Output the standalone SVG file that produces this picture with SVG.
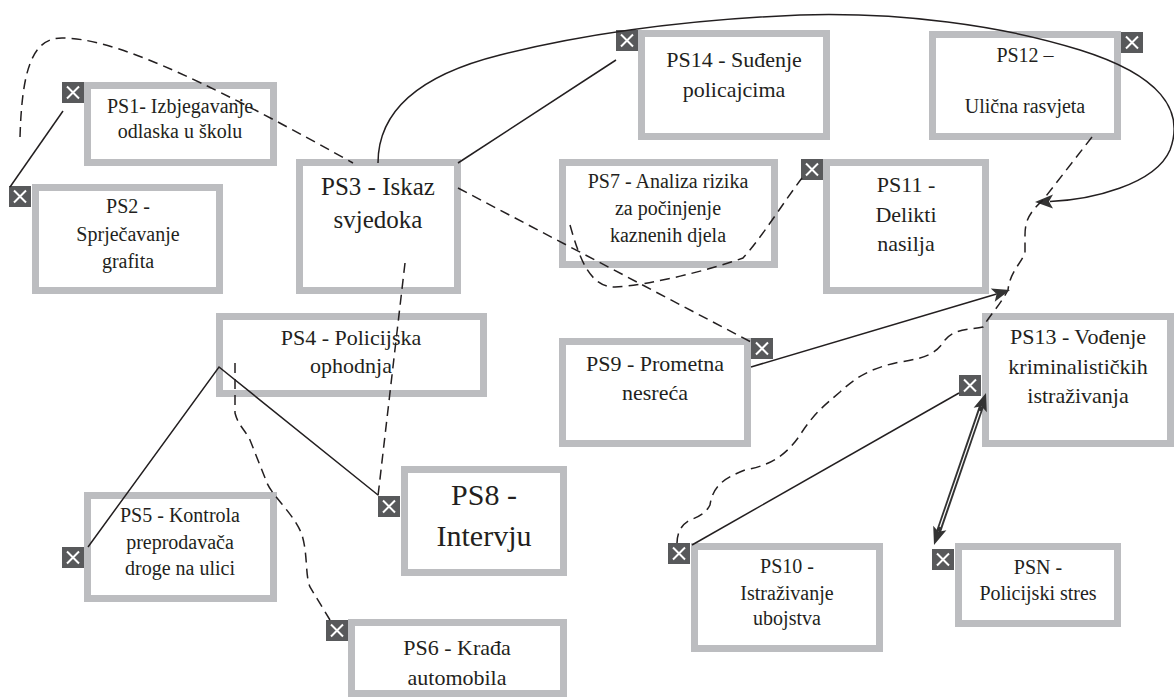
<svg xmlns="http://www.w3.org/2000/svg" width="1174" height="699" viewBox="0 0 1174 699">
<style>
.box{fill:#fff;stroke:#bcbdc0;stroke-width:7}
.sl{fill:none;stroke:#231f20;stroke-width:1.5}
.dl{fill:none;stroke:#231f20;stroke-width:1.5;stroke-dasharray:10 6}
.ah{fill:#333}
</style>
<defs>
<g id="x"><rect width="22" height="21" fill="#58595b"/><path d="M5,4.5 L17,16.5 M17,4.5 L5,16.5" stroke="#fff" stroke-width="2" fill="none"/></g>
</defs>

<g font-family="Liberation Serif, Times New Roman, serif" fill="#231f20" text-anchor="middle">
<g id="PS1"><rect class="box" x="87.5" y="85.5" width="186" height="77"/>
<text font-size="20"><tspan x="180" y="113">PS1- Izbjegavanje</tspan><tspan x="180" y="138">odlaska u školu</tspan></text>
<use href="#x" x="62" y="82"/></g>

<g id="PS2"><rect class="box" x="35.5" y="187.5" width="184" height="103"/>
<text font-size="20"><tspan x="128" y="213">PS2 -</tspan><tspan x="128" y="241">Sprječavanje</tspan><tspan x="128" y="268">grafita</tspan></text>
<use href="#x" x="9" y="186"/></g>

<g id="PS3"><rect class="box" x="299.5" y="162.5" width="158" height="128"/>
<text font-size="25"><tspan x="378" y="195">PS3 - Iskaz</tspan><tspan x="378" y="228">svjedoka</tspan></text></g>

<g id="PS14"><rect class="box" x="641.5" y="33.5" width="185" height="103"/>
<text font-size="22"><tspan x="734" y="67">PS14 - Suđenje</tspan><tspan x="734" y="97">policajcima</tspan></text>
<use href="#x" x="616" y="30"/></g>

<g id="PS12"><rect class="box" x="932.5" y="34.5" width="185" height="102"/>
<text font-size="20"><tspan x="1025" y="62">PS12 –</tspan><tspan x="1025" y="113">Ulična rasvjeta</tspan></text>
<use href="#x" x="1121" y="32"/></g>

<g id="PS7"><rect class="box" x="562.5" y="162.5" width="212" height="102"/>
<text font-size="20"><tspan x="668" y="188">PS7 - Analiza rizika</tspan><tspan x="668" y="215">za počinjenje</tspan><tspan x="668" y="242">kaznenih djela</tspan></text></g>

<g id="PS11"><rect class="box" x="826.5" y="162.5" width="159" height="128"/>
<text font-size="22"><tspan x="906" y="192">PS11 -</tspan><tspan x="906" y="222">Delikti</tspan><tspan x="906" y="251">nasilja</tspan></text>
<use href="#x" x="801" y="159"/></g>

<g id="PS4"><rect class="box" x="219.5" y="316.5" width="264" height="77"/>
<text font-size="22"><tspan x="351" y="345">PS4 - Policijska</tspan><tspan x="351" y="373">ophodnja</tspan></text></g>

<g id="PS5"><rect class="box" x="87.5" y="495.5" width="186" height="103"/>
<text font-size="20"><tspan x="180" y="522">PS5 - Kontrola</tspan><tspan x="180" y="549">preprodavača</tspan><tspan x="180" y="575">droge na ulici</tspan></text>
<use href="#x" x="62" y="547"/></g>

<g id="PS6"><rect class="box" x="351.5" y="622.5" width="212" height="71"/>
<text font-size="22"><tspan x="457" y="655">PS6 - Krađa</tspan><tspan x="457" y="685">automobila</tspan></text>
<use href="#x" x="326" y="620"/></g>

<g id="PS8"><rect class="box" x="404.5" y="469.5" width="159" height="103"/>
<text font-size="30"><tspan x="484" y="505">PS8 -</tspan><tspan x="484" y="546">Intervju</tspan></text>
<use href="#x" x="378" y="496"/></g>

<g id="PS9"><rect class="box" x="562.5" y="341.5" width="185" height="102"/>
<text font-size="22"><tspan x="655" y="371">PS9 - Prometna</tspan><tspan x="655" y="400">nesreća</tspan></text>
<use href="#x" x="751" y="338"/></g>

<g id="PS10"><rect class="box" x="694.5" y="546.5" width="185" height="102"/>
<text font-size="20"><tspan x="787" y="573">PS10 -</tspan><tspan x="787" y="600">Istraživanje</tspan><tspan x="787" y="625">ubojstva</tspan></text>
<use href="#x" x="668" y="543"/></g>

<g id="PS13"><rect class="box" x="985.5" y="316.5" width="185" height="127"/>
<text font-size="22"><tspan x="1078" y="344">PS13 - Vođenje</tspan><tspan x="1078" y="374">kriminalističkih</tspan><tspan x="1078" y="403">istraživanja</tspan></text>
<use href="#x" x="959" y="375"/></g>

<g id="PSN"><rect class="box" x="958.5" y="546.5" width="159" height="77"/>
<text font-size="20"><tspan x="1038" y="574">PSN -</tspan><tspan x="1038" y="600">Policijski stres</tspan></text>
<use href="#x" x="932" y="549"/></g>
</g>

<g id="connectors">
<path class="dl" d="M20,137 C22,70 32,38 62,38 C110,38 190,72 353,163"/>
<path class="sl" d="M10,187 L63,111"/>
<path class="sl" d="M378,163 C378,110 420,75 500,55 C580,35 680,20 800,15 C900,12 1000,25 1080,50 C1160,75 1185,110 1170,150 C1155,185 1090,200 1050,201.5"/>
<polygon class="ah" points="1035,202 1053,194.5 1049,201.5 1053,208.5"/>
<path class="sl" d="M458,163 L616,60"/>
<path class="dl" d="M458,188 L751,342"/>
<path class="dl" d="M405,263 L378,496"/>
<path class="sl" d="M88,547 L219,367 L378,495"/>
<path class="dl" d="M235,363 L235,413 C238,425 245,430 250,440 L267,483 C273,497 295,515 302,535 C308,555 305,575 310,587 L330,620"/>
<path class="dl" d="M570,225 C580,260 590,287 615,287 C650,285 710,270 743,258 C760,240 785,200 802,178"/>
<path class="dl" d="M1092,137 L1043,200 C1030,212 1025,220 1025,235 L1025,253 C1020,265 1010,272 1008,290 C1000,305 990,315 983,327 C970,330 955,328 945,340 C935,355 925,358 900,362 C870,368 855,378 840,392 C825,405 815,412 800,435 C790,450 775,465 745,470 C725,478 713,485 710,505 C705,515 695,518 690,520 C680,525 677,535 677,543"/>
<path class="sl" d="M751,367 L996.6,294"/>
<polygon class="ah" points="1010,290 990.75,288.4 996.6,294 994.75,301.8"/>
<path class="sl" d="M692,545 L959,393"/>
<path d="M938.5,531.7 L981.5,406.3" fill="none" stroke="#333" stroke-width="5"/>
<path d="M940,527 L980,411" fill="none" stroke="#fff" stroke-width="1.2"/>
<polygon class="ah" points="986,393 986.8,412.3 981.5,406.3 973.6,407.8"/>
<polygon class="ah" points="934,545 933.2,525.7 938.5,531.7 946.4,530.2"/>
</g>
</svg>
